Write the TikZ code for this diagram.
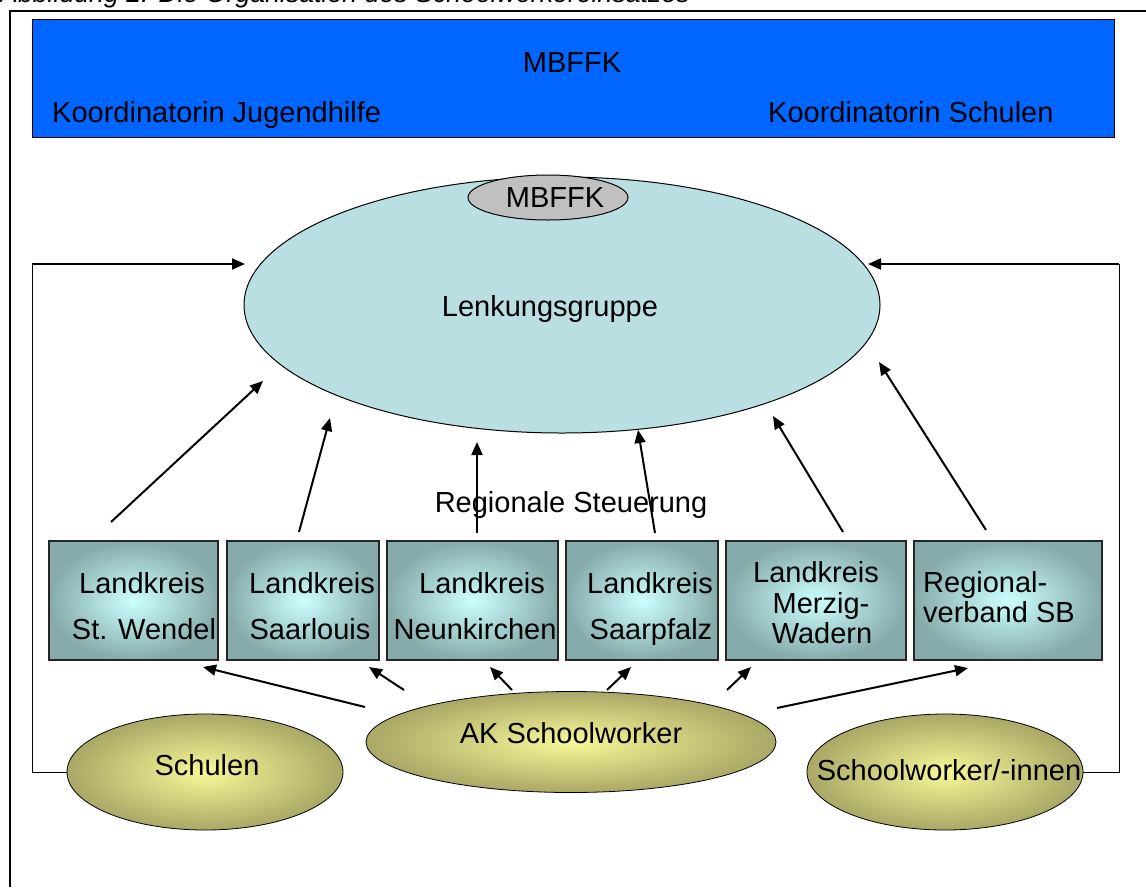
\documentclass[tikz,border=0pt]{standalone}
\usepackage{fontspec}
\setmainfont{Liberation Sans}
\usetikzlibrary{shapes.geometric,arrows.meta}
\definecolor{mblue}{HTML}{0066FF}
\definecolor{lenkfill}{HTML}{B9DFE3}
\definecolor{boxin}{HTML}{CCFFFF}
\definecolor{boxout}{HTML}{87ABAB}
\definecolor{yin}{HTML}{F8F898}
\definecolor{yout}{HTML}{A9A866}
\definecolor{grayfill}{HTML}{C0C0C0}
\begin{document}
\begin{tikzpicture}[x=1pt,y=-1pt,
  font=\fontsize{29}{34}\selectfont,
  txt/.style={inner sep=0pt, anchor=base},
  arr/.style={line width=2pt, -{Triangle[length=13pt,width=11pt]}},
  kbox/.style={draw=black!85, line width=1.2pt, inner sep=0pt, minimum height=119pt,
               inner color=boxin, outer color=boxout},
  yel/.style={ellipse, draw, line width=0.8pt, inner sep=0pt, inner color=yin, outer color=yout},
  thinline/.style={line width=1pt}]
\useasboundingbox (0,0) rectangle (1146,887);
% caption (cut at top)
\node[txt, anchor=base west] (cap) at (0,2.5) {\fontsize{26.7}{30}\selectfont\itshape Abbildung 2: Die Organisation des Schoolworkereinsatzes};
% outer frame
\draw[line width=2pt] (10,887) -- (10,11) -- (1150,11);
% top blue box
\node[draw, line width=1pt, fill=mblue, inner sep=0pt, minimum width=1082pt, minimum height=118pt] (top) at (573,78) {};
\node[txt] (topt) at (572,72) {MBFFK};
\node[txt, anchor=base west] (kj) at (52,122) {Koordinatorin Jugendhilfe};
\node[txt, anchor=base west] (ks) at (768,122) {Koordinatorin Schulen};
% Lenkungsgruppe
\node[ellipse, draw, line width=1pt, fill=lenkfill, inner sep=0pt, minimum width=636pt, minimum height=256pt] (lenk) at (562,305) {};
\node[ellipse, draw, line width=1pt, fill=grayfill, inner sep=0pt, minimum width=160pt, minimum height=45pt] (mb) at (548,197.5) {};
\node[txt] (mbt) at (555,207) {MBFFK};
\node[txt] (lenkt) at (550,316) {Lenkungsgruppe};
% regional boxes
\node[kbox, minimum width=169pt] (b1) at (133.5,600.5) {};
\node[kbox, minimum width=152pt] (b2) at (303,600.5) {};
\node[kbox, minimum width=171pt] (b3) at (472.5,600.5) {};
\node[kbox, minimum width=152pt] (b4) at (642,600.5) {};
\node[kbox, minimum width=180pt] (b5) at (816,600.5) {};
\node[kbox, minimum width=188pt] (b6) at (1008,600.5) {};
\node[txt] (b1a) at (142,593) {Landkreis};
\node[txt] (b1b) at (144,639) {St. Wendel};
\node[txt] (b2a) at (312,593) {Landkreis};
\node[txt] (b2b) at (310,639) {Saarlouis};
\node[txt] (b3a) at (482,593) {Landkreis};
\node[txt] (b3b) at (475,639) {Neunkirchen};
\node[txt] (b4a) at (650,593) {Landkreis};
\node[txt] (b4b) at (651,639) {Saarpfalz};
\node[txt] (b5a) at (816,582) {Landkreis};
\node[txt] (b5b) at (821,613) {Merzig-};
\node[txt] (b5c) at (822,643) {Wadern};
\node[txt, anchor=base west] (b6a) at (923,592) {Regional-};
\node[txt, anchor=base west] (b6b) at (923,622) {verband SB};
\node[txt] (reg) at (571,512) {Regionale Steuerung};
% bottom ellipses
\node[yel, minimum width=276pt, minimum height=116pt] (schulen) at (205,772) {};
\node[txt] (schulent) at (207,775) {Schulen};
\node[yel, minimum width=410pt, minimum height=101pt] (ak) at (571,742) {};
\node[txt] (akt) at (571,743) {AK Schoolworker};
\node[yel, minimum width=276pt, minimum height=116pt] (sw) at (945,772) {};
\node[txt] (swt) at (949,780) {Schoolworker/-innen};
% side connectors
\coordinate (lt) at (32,264);
\coordinate (lte) at (245,264);
\coordinate (rt) at (1119,264);
\coordinate (rte) at (868,264);
\draw[thinline] (schulen.west) -| (lt);
\draw[arr] (lt) -- (lte);
\draw[thinline] (sw.east) -| (rt);
\draw[arr] (rt) -- (rte);
% upward arrows
\coordinate (u1s) at (111,522); \coordinate (u1e) at (263,381);
\coordinate (u2s) at (299,532); \coordinate (u2e) at (330,418);
\coordinate (u3s) at (477,533); \coordinate (u3e) at (477,442);
\coordinate (u4s) at (655,533); \coordinate (u4e) at (638,430);
\coordinate (u5s) at (843,532); \coordinate (u5e) at (773,416);
\coordinate (u6s) at (986,530); \coordinate (u6e) at (879,362);
\foreach \i in {1,...,6} {\draw[arr] (u\i s) -- (u\i e);}
% downward arrows
\coordinate (d1s) at (365,707); \coordinate (d1e) at (203,667);
\coordinate (d2s) at (404,690); \coordinate (d2e) at (369,667);
\coordinate (d3s) at (512,690); \coordinate (d3e) at (490,667);
\coordinate (d4s) at (607,690); \coordinate (d4e) at (631,667);
\coordinate (d5s) at (727,690); \coordinate (d5e) at (751,667);
\coordinate (d6s) at (777,708); \coordinate (d6e) at (968,668);
\foreach \i in {1,...,6} {\draw[arr] (d\i s) -- (d\i e);}
\end{tikzpicture}
\end{document}
